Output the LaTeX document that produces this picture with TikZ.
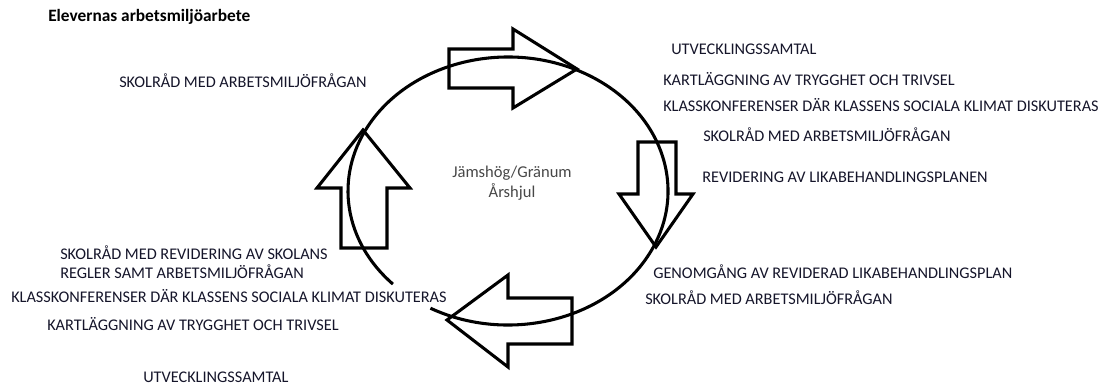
\documentclass[tikz,border=0pt]{standalone}
\usepackage{fontspec}
\setmainfont{Carlito}
\usetikzlibrary{calc}
\definecolor{txt}{HTML}{15152A}
\begin{document}
\begin{tikzpicture}[x=0.75pt,y=0.75pt,
  lbl/.style={anchor=base west,inner sep=0pt,font=\fontsize{12.2}{14}\selectfont,text=txt},
  blockarrow/.style={draw=black,line width=2.3pt,line join=miter},
  wheel/.style={draw=black,line width=2.3pt}]
\useasboundingbox (0,0) rectangle (1099,-385);
% title
\node[lbl,font=\fontsize{13}{15}\selectfont\bfseries,text=black] (title) at (48,-22) {Elevernas arbetsmiljöarbete};
% wheel (ellipse with a gap at lower left)
\coordinate (c) at (508,-191);
\draw[wheel] ($(c)+({160*cos(241)},{134*sin(241)})$) arc[start angle=241,end angle=584,x radius=160,y radius=134];
% block arrows
\draw[blockarrow] (449,-49) -- (513,-49) -- (513,-29) -- (577,-69) -- (513,-108) -- (513,-88) -- (449,-88) -- cycle;
\draw[blockarrow] (638,-142) -- (676,-142) -- (676,-194) -- (693,-194) -- (656,-247) -- (619,-194) -- (638,-194) -- cycle;
\draw[blockarrow] (572,-298) -- (572,-344) -- (508,-344) -- (508,-367) -- (447,-320) -- (508,-275) -- (508,-298) -- cycle;
\draw[blockarrow] (341,-248) -- (387,-248) -- (387,-188) -- (410,-188) -- (363,-130) -- (317,-188) -- (341,-188) -- cycle;
% centre
\node[align=center,inner sep=0pt,font=\fontsize{12.4}{15}\selectfont,text=black!72] (centre) at (512,-183) {Jämshög/Gränum\\Årshjul};
% upper left
\node[lbl] (ul1) at (119,-88) {SKOLRÅD MED ARBETSMILJÖFRÅGAN};
% right side
\node[lbl] (r1) at (671,-55) {UTVECKLINGSSAMTAL};
\node[lbl] (r2) at (663,-85) {KARTLÄGGNING AV TRYGGHET OCH TRIVSEL};
\node[lbl] (r3) at (663,-112) {KLASSKONFERENSER DÄR KLASSENS SOCIALA KLIMAT DISKUTERAS};
\node[lbl] (r4) at (703,-141) {SKOLRÅD MED ARBETSMILJÖFRÅGAN};
\node[lbl] (r5) at (702,-182) {REVIDERING AV LIKABEHANDLINGSPLANEN};
% lower right
\node[lbl] (br1) at (653,-278) {GENOMGÅNG AV REVIDERAD LIKABEHANDLINGSPLAN};
\node[lbl] (br2) at (645,-304) {SKOLRÅD MED ARBETSMILJÖFRÅGAN};
% lower left
\node[lbl] (bl1) at (60,-259) {SKOLRÅD MED REVIDERING AV SKOLANS};
\node[lbl] (bl2) at (60,-278) {REGLER SAMT ARBETSMILJÖFRÅGAN};
\node[lbl] (bl3) at (11,-302) {KLASSKONFERENSER DÄR KLASSENS SOCIALA KLIMAT DISKUTERAS};
\node[lbl] (bl4) at (47,-330) {KARTLÄGGNING AV TRYGGHET OCH TRIVSEL};
\node[lbl] (bl5) at (143,-382) {UTVECKLINGSSAMTAL};
\end{tikzpicture}
\end{document}
